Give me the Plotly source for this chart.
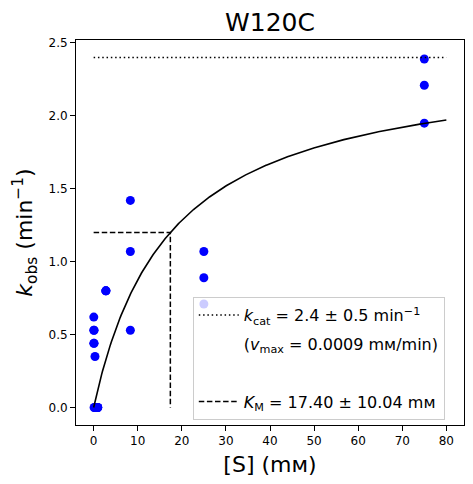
import numpy as np
import plotly.graph_objects as go

# substrate concentration (mM) and observed rate constants (min^-1), triplicates
s_conc = [0.034, 0.034, 0.034, 0.103, 0.103, 0.103, 0.309, 0.309, 0.309,
          0.926, 0.926, 0.926, 2.78, 2.78, 2.78, 8.33, 8.33, 8.33,
          25, 25, 25, 75, 75, 75]
k_obs = [0.62, 0.53, 0.44, 0.53, 0.44, 0.0, 0.35, 0.0, 0.0,
         0.0, 0.0, 0.0, 0.80, 0.80, 0.80, 1.42, 1.07, 0.53,
         1.07, 0.89, 0.71, 2.39, 2.21, 1.95]

# fit parameters
kcat = 2.4
km = 17.40
s_max = 80

x_ticks = [0, 10, 20, 30, 40, 50, 60, 70, 80]
y_ticks = [0.0, 0.5, 1.0, 1.5, 2.0, 2.5]

FONT = "DejaVu Sans"

s_fit = np.linspace(0, s_max, 400)
k_fit = kcat * s_fit / (km + s_fit)

fig = go.Figure()

fig.add_trace(go.Scatter(
    x=s_conc, y=k_obs, mode="markers",
    marker=dict(color="#0000ff", size=9, line=dict(width=0)),
    showlegend=False,
))

fig.add_trace(go.Scatter(
    x=s_fit, y=k_fit, mode="lines",
    line=dict(color="black", width=1.6),
    showlegend=False,
))

fig.add_trace(go.Scatter(
    x=[0, s_max], y=[kcat, kcat], mode="lines",
    line=dict(color="black", width=1.5, dash="1.5px,2.8px"),
    name="<i>k</i><sub>cat</sub> = 2.4 ± 0.5 min<sup>−1</sup>",
    legendgroup="a",
))

fig.add_trace(go.Scatter(
    x=[None], y=[None], mode="lines",
    line=dict(color="rgba(0,0,0,0)", width=0),
    name="(<i>v</i><sub>max</sub> = 0.0009 mм/min)",
    legendgroup="b",
))

fig.add_trace(go.Scatter(
    x=[None], y=[None], mode="lines",
    line=dict(color="rgba(0,0,0,0)", width=0),
    name=" ",
    legendgroup="c",
))

fig.add_trace(go.Scatter(
    x=[0, km, km, km], y=[kcat / 2, kcat / 2, kcat / 2, 0], mode="lines",
    line=dict(color="black", width=1.5, dash="5.5px,2.6px"),
    name="<i>K</i><sub>M</sub> = 17.40 ± 10.04 mм",
    legendgroup="d",
))

axis_style = dict(
    showline=True, linecolor="black", linewidth=1, mirror=True,
    ticks="outside", ticklen=5, tickcolor="black", tickwidth=1,
    showgrid=False, zeroline=False, automargin=False,
    tickfont=dict(family=FONT, size=12, color="black"),
)

fig.update_xaxes(
    range=[-4, 84], tickvals=x_ticks,
    title=dict(text="[S] (mм)", font=dict(family=FONT, size=22, color="black"), standoff=9),
    **axis_style,
)
fig.update_yaxes(
    range=[-0.12, 2.52], tickvals=y_ticks, tickformat=".1f",
    title=dict(text="<i>k</i><sub>obs</sub> (min<sup>−1</sup>)",
               font=dict(family=FONT, size=22, color="black"), standoff=9),
    **axis_style,
)

# page body adds an 8px offset, so the figure is 8px smaller
fig.update_layout(
    width=465, height=476,
    margin=dict(l=68, r=9, t=32, b=59, autoexpand=False),
    paper_bgcolor="white", plot_bgcolor="white",
    title=dict(text="W120C", x=0.5, xref="paper", xanchor="center",
               yref="container", y=1 - 14 / 476, yanchor="middle",
               font=dict(family=FONT, size=25, color="black")),
    legend=dict(
        x=0.301, y=0.332, xanchor="left", yanchor="top",
        bgcolor="rgba(255,255,255,0.8)", bordercolor="#cccccc", borderwidth=1,
        font=dict(family=FONT, size=16, color="black"),
        tracegroupgap=5, traceorder="grouped", itemwidth=40,
    ),
)

fig.write_html("out.html")
